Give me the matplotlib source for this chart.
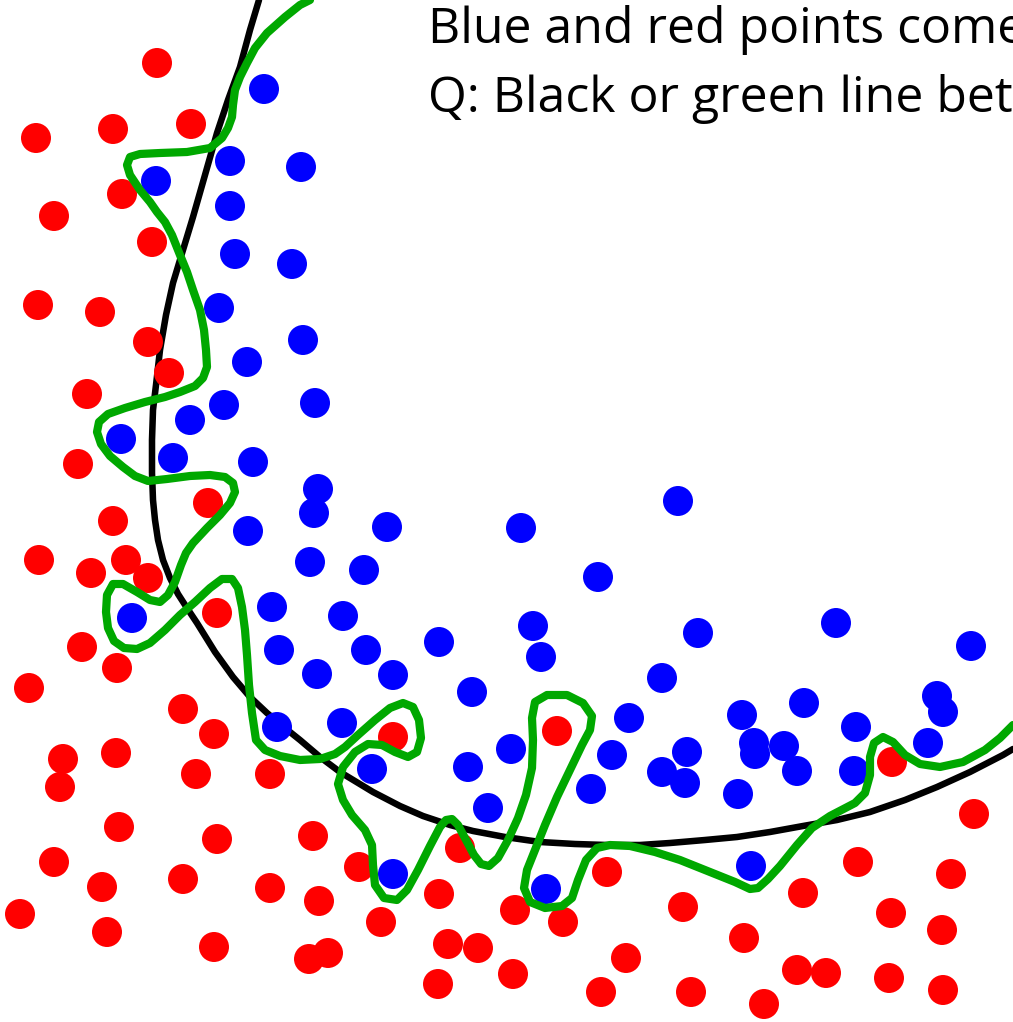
import matplotlib
matplotlib.use("Agg")
import matplotlib.pyplot as plt

# ---- data (pixel coordinates, y downward) ----
red_x = [157, 36, 113, 191, 122, 54, 152, 38, 100, 148, 169, 87, 78, 208, 113, 39, 126, 91, 148, 217,
         82, 117, 29, 183, 214, 63, 116, 60, 196, 270, 393, 557, 119, 217, 313, 54, 102, 183, 270, 319,
         20, 107, 214, 309, 328, 460, 359, 439, 381, 515, 563, 448, 478, 438, 513, 607, 626, 601, 683, 744,
         803, 858, 951, 974, 891, 942, 691, 764, 797, 826, 889, 943, 892]
red_y = [63, 138, 129, 124, 194, 216, 242, 305, 312, 342, 373, 394, 464, 503, 521, 560, 560, 573, 578, 613,
         647, 668, 688, 709, 734, 759, 753, 787, 774, 774, 737, 731, 827, 839, 836, 862, 887, 879, 888, 901,
         914, 932, 947, 959, 953, 848, 867, 894, 922, 910, 922, 944, 948, 984, 974, 872, 958, 992, 907, 938,
         893, 862, 874, 814, 913, 930, 992, 1004, 970, 973, 978, 990, 762]

blue_x = [264, 230, 301, 156, 230, 235, 292, 219, 303, 247, 224, 315, 190, 121, 173, 253, 318, 314, 248, 387,
          521, 678, 310, 364, 598, 132, 272, 343, 533, 698, 836, 971, 279, 366, 439, 541, 317, 393, 662, 472,
          804, 937, 943, 629, 742, 856, 277, 342, 511, 612, 687, 754, 755, 784, 928, 372, 468, 662, 685, 797,
          854, 591, 738, 488, 393, 751, 546]
blue_y = [89, 161, 167, 181, 206, 254, 264, 308, 340, 362, 405, 403, 420, 439, 458, 462, 489, 513, 531, 527,
          528, 501, 562, 570, 577, 618, 607, 616, 626, 633, 623, 646, 650, 650, 642, 657, 674, 675, 678, 692,
          703, 696, 712, 718, 715, 727, 727, 723, 749, 755, 752, 743, 754, 746, 743, 769, 767, 772, 783, 771,
          771, 789, 794, 808, 874, 866, 889]

black_x = [259, 250, 240, 228, 217, 205, 193, 183, 173, 166, 160, 156, 153, 152, 152, 153, 155, 158, 163, 170,
           178, 187, 197, 215, 233, 250, 267, 285, 300, 320, 340, 373, 400, 423, 450, 473, 505, 540, 575, 607,
           640, 670, 705, 737, 770, 803, 837, 870, 905, 937, 970, 1003, 1013]
black_y = [0, 30, 67, 100, 133, 175, 217, 250, 283, 315, 350, 385, 410, 440, 473, 500, 520, 540, 560, 578,
           594, 608, 623, 652, 677, 697, 713, 728, 740, 757, 772, 792, 806, 816, 825, 831, 837, 842, 844, 845,
           845, 843, 840, 837, 832, 826, 820, 812, 800, 787, 772, 755, 749]

green_pts = [(310, 0), (300, 5), (285, 17), (267, 33), (255, 48), (247, 63), (240, 77), (235, 90), (233, 105),
             (232, 117), (228, 128), (222, 138), (210, 148), (187, 152), (160, 153), (140, 154), (130, 157),
             (127, 165), (130, 175), (140, 190), (150, 202), (157, 212), (165, 222), (172, 235), (180, 255),
             (187, 272), (193, 290), (200, 310), (204, 330), (206, 350), (207, 367), (203, 378), (195, 386),
             (180, 392), (165, 397), (145, 402), (125, 408), (108, 414), (99, 422), (97, 432), (101, 444),
             (110, 456), (123, 467), (135, 476), (148, 481), (167, 479), (190, 476), (210, 475), (225, 477),
             (233, 483), (235, 492), (230, 503), (220, 515), (207, 528), (193, 543), (186, 553), (181, 565),
             (175, 582), (168, 595), (160, 602), (150, 600), (137, 592), (123, 584), (113, 584), (107, 595),
             (106, 612), (108, 628), (114, 641), (124, 648), (137, 649), (150, 643), (165, 630), (180, 615),
             (195, 602), (210, 588), (222, 579), (232, 579), (238, 588), (242, 607), (245, 630), (247, 655),
             (249, 685), (252, 713), (256, 740), (265, 750), (280, 756), (300, 760), (320, 759), (335, 754),
             (345, 747), (358, 735), (375, 720), (390, 708), (403, 703), (413, 707), (419, 720), (421, 738),
             (417, 752), (408, 757), (395, 752), (382, 745), (368, 744), (355, 752), (343, 767), (338, 784),
             (343, 800), (352, 815), (365, 830), (372, 845), (373, 865), (375, 885), (384, 898), (397, 900),
             (407, 890), (418, 870), (430, 846), (440, 827), (446, 820), (452, 819), (458, 825), (466, 840),
             (474, 855), (481, 864), (489, 866), (498, 858), (508, 840), (518, 818), (526, 795), (532, 768),
             (533, 740), (532, 718), (535, 702), (547, 695), (567, 695), (583, 703), (592, 716), (590, 730),
             (582, 745), (570, 770), (557, 797), (545, 825), (535, 850), (527, 870), (524, 888), (530, 902),
             (545, 908), (562, 906), (572, 898), (578, 880), (586, 860), (597, 848), (610, 845), (630, 846),
             (655, 852), (680, 860), (710, 872), (735, 882), (750, 889), (758, 888), (768, 879), (780, 866),
             (797, 845), (812, 828), (830, 816), (855, 803), (865, 793), (870, 775), (870, 757), (874, 743),
             (883, 737), (893, 742), (905, 755), (920, 764), (940, 767), (963, 762), (985, 750), (1000, 738),
             (1013, 725)]
green_x = [p[0] for p in green_pts]
green_y = [p[1] for p in green_pts]

line1 = "Blue and red points come from two different distributions"
line2 = "Q: Black or green line better separates them?"

# ---- figure ----
W, H = 1013, 1022
fig = plt.figure(figsize=(W / 100, H / 100), dpi=100)
fig.patch.set_facecolor("white")
ax = fig.add_axes([0, 0, 1, 1])
ax.set_xlim(0, W)
ax.set_ylim(H, 0)
ax.axis("off")

ax.plot(black_x, black_y, color="black", lw=4.7, solid_joinstyle="round",
        solid_capstyle="round", zorder=1)
ms = (30 * 0.72) ** 2
ax.scatter(red_x, red_y, s=ms, color="#ff0000", edgecolors="none", zorder=2)
ax.scatter(blue_x, blue_y, s=ms, color="#0000ff", edgecolors="none", zorder=2)
ax.plot(green_x, green_y, color="#00a800", lw=5.9, solid_joinstyle="round",
        solid_capstyle="round", zorder=3)

ax.text(428, 43, line1, fontsize=36, family="Open Sans", va="baseline", ha="left",
        color="black", clip_on=False, zorder=4)
ax.text(428, 112, line2, fontsize=36, family="Open Sans", va="baseline", ha="left",
        color="black", clip_on=False, zorder=4)

fig.savefig("out.png", dpi=100, facecolor="white")
